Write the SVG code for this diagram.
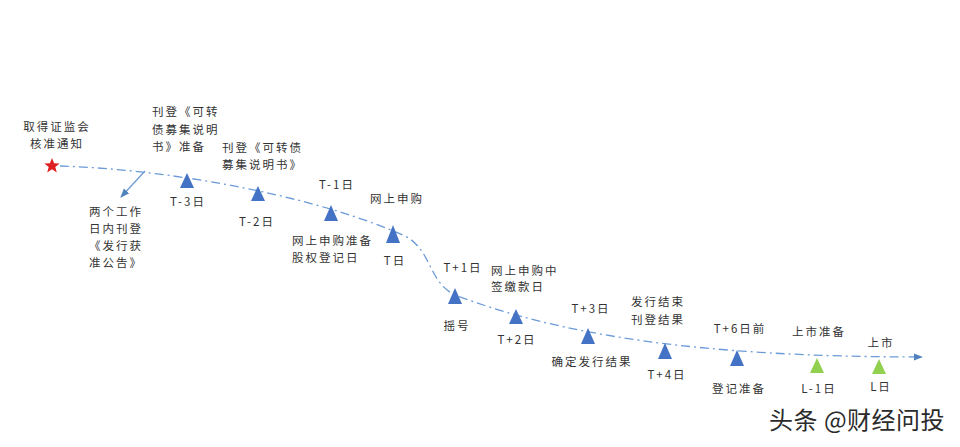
<svg xmlns="http://www.w3.org/2000/svg" width="960" height="447" viewBox="0 0 960 447">
<defs>
<style>
text{font-family:"Noto Sans CJK SC","Noto Sans",sans-serif;font-size:11.5px;fill:#333;letter-spacing:2px}
.c{text-anchor:middle}
.tb{fill:#4472C4}
.tg{fill:#92D050}
.ln{fill:none;stroke:#6C9BD8;stroke-width:1.3}
</style>
<marker id="ah" viewBox="0 0 10 10" refX="9" refY="5" markerWidth="7" markerHeight="7" orient="auto"><path d="M0,1 L10,5 L0,9 z" fill="#4F81BD"/></marker>
</defs>
<rect width="960" height="447" fill="#fff"/>
<g id="connectors">
<path class="ln" stroke-dasharray="9 4 2 4" d="M60,166 C180,170 320,198 405,236 C432,250 428,282 455,295 C560,335 700,357 922,357" marker-end="url(#ah)"/>
<path class="ln" d="M145,171 L121,197" marker-end="url(#ah)"/>
</g>
<g id="start">
<polygon fill="#E02020" points="52,158 54.1,163.3 59.6,163.5 55.3,167 56.8,172.4 52,169.3 47.2,172.4 48.7,167 44.4,163.5 49.9,163.3"/>
<text class="c" x="57" y="131">取得证监会</text>
<text class="c" x="57" y="148">核准通知</text>
</g>
<g id="announce">
<text x="89" y="216">两个工作</text>
<text x="89" y="233">日内刊登</text>
<text x="89" y="250">《发行获</text>
<text x="89" y="267">准公告》</text>
</g>
<g id="t-3">
<polygon class="tb" points="187,173 194,188 180,188"/>
<text class="c" x="188" y="206">T-3日</text>
<text x="152" y="116">刊登《可转</text>
<text x="152" y="134">债募集说明</text>
<text x="152" y="151">书》准备</text>
</g>
<g id="t-2">
<polygon class="tb" points="258,186 265,201 251,201"/>
<text class="c" x="257" y="226">T-2日</text>
<text x="222" y="152">刊登《可转债</text>
<text x="222" y="169">募集说明书》</text>
</g>
<g id="t-1">
<polygon class="tb" points="331,205 338,221 324,221"/>
<text class="c" x="337" y="189">T-1日</text>
<text x="292" y="245">网上申购准备</text>
<text x="292" y="262">股权登记日</text>
</g>
<g id="t">
<polygon class="tb" points="393,225 400,243 386,243"/>
<text class="c" x="397" y="203">网上申购</text>
<text class="c" x="395" y="265">T日</text>
</g>
<g id="t+1">
<polygon class="tb" points="455,288 462,304 448,304"/>
<text class="c" x="463" y="272">T+1日</text>
<text class="c" x="457" y="330">摇号</text>
</g>
<g id="t+2">
<polygon class="tb" points="516,309 523,324 509,324"/>
<text x="491" y="275">网上申购中</text>
<text x="491" y="291">签缴款日</text>
<text class="c" x="517" y="344">T+2日</text>
</g>
<g id="t+3">
<polygon class="tb" points="588,328 595,344 581,344"/>
<text class="c" x="591" y="313">T+3日</text>
<text class="c" x="592" y="366">确定发行结果</text>
</g>
<g id="t+4">
<polygon class="tb" points="665,343 672,359 658,359"/>
<text x="631" y="306">发行结束</text>
<text x="631" y="324">刊登结果</text>
<text class="c" x="667" y="379">T+4日</text>
</g>
<g id="t+6">
<polygon class="tb" points="737,350 744,366 730,366"/>
<text class="c" x="740" y="333">T+6日前</text>
<text class="c" x="739" y="393">登记准备</text>
</g>
<g id="l-1">
<polygon class="tg" points="817,358 824,373 810,373"/>
<text class="c" x="819" y="336">上市准备</text>
<text class="c" x="819" y="393">L-1日</text>
</g>
<g id="l">
<polygon class="tg" points="879,359 886,374 872,374"/>
<text class="c" x="881" y="347">上市</text>
<text class="c" x="881" y="391">L日</text>
</g>
<text x="769" y="429" style="font-size:24px;fill:#2b2b2b;letter-spacing:0.5px">头条 @财经问投</text>
</svg>
